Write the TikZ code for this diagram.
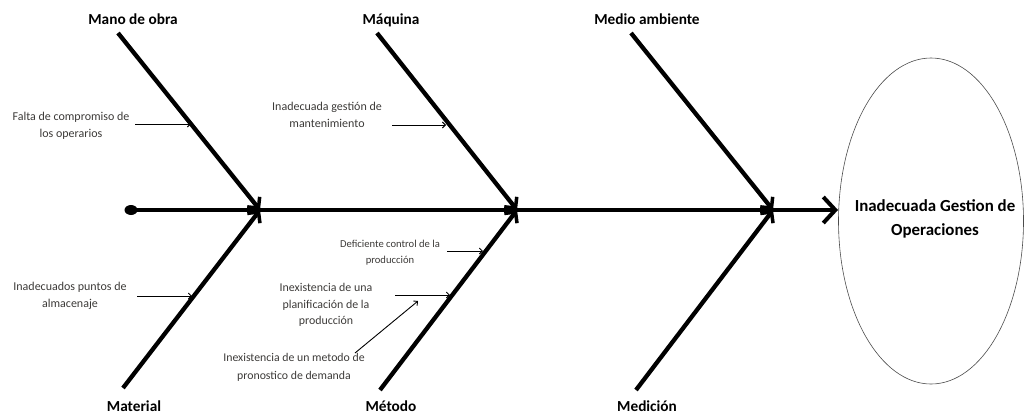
\documentclass[tikz,border=0pt]{standalone}
\usepackage{fontspec}
\setmainfont{Carlito}
\usetikzlibrary{arrows.meta,shapes.geometric}
\definecolor{causetext}{HTML}{3C3A38}
\begin{document}
\begin{tikzpicture}[x=1pt,y=-1pt,
  spine/.style={line width=4.5pt,
    -{Straight Barb[length=12pt,width=26pt,line width=4pt]}},
  bone/.style={line width=4.3pt,
    -{Straight Barb[length=8pt,width=16pt,line width=3.5pt]}},
  sub/.style={line width=0.9pt,
    -{Straight Barb[length=3pt,width=6pt,line width=0.9pt]}},
  category/.style={font=\bfseries\fontsize{15.3}{18}\selectfont, inner sep=0pt,
    anchor=base},
  cause/.style={font=\fontsize{12}{17}\selectfont, text=causetext,
    align=center, inner sep=0pt},
  effect/.style={draw=black!70, line width=0.6pt, ellipse, minimum width=185pt,
    minimum height=326pt, inner sep=0pt}
]
\useasboundingbox (0,0) rectangle (1024,416);

% head (effect)
\node[effect] (effect) at (931,221) {};
\node[align=center, font=\bfseries\fontsize{16.9}{24}\selectfont] (effecttext)
  at (935,219) {Inadecuada Gestion de\\Operaciones};

% spine
\coordinate (tail) at (131,210);
\coordinate (head) at (838,210);
\fill (tail) ellipse (6.5pt and 5pt);
\draw[spine] (tail) -- (head);

% joints on the spine
\coordinate (j1) at (260,210);
\coordinate (j2) at (517,210);
\coordinate (j3) at (773,210);

% upper bones
\coordinate (mo) at (118,33);
\coordinate (mq) at (377,33);
\coordinate (ma) at (631,33);
\draw[bone] (mo) -- (j1);
\draw[bone] (mq) -- (j2);
\draw[bone] (ma) -- (j3);
\node[category] (lmo) at (133,24) {Mano de obra};
\node[category] (lmq) at (391,24) {Máquina};
\node[category] (lma) at (647,24) {Medio ambiente};

% lower bones
\coordinate (mt) at (123,388);
\coordinate (me) at (380,390);
\coordinate (md) at (636,390);
\draw[bone] (mt) -- (j1);
\draw[bone] (me) -- (j2);
\draw[bone] (md) -- (j3);
\node[category] (lmt) at (134,411) {Material};
\node[category] (lme) at (391,411) {Método};
\node[category] (lmd) at (647,411) {Medición};

% causes
\node[cause] (c1) at (71,126) {Falta de compromiso de\\los operarios};
\coordinate (c1s) at (135,124);
\coordinate (c1e) at (191,124);
\draw[sub] (c1s) -- (c1e);

\node[cause] (c2) at (327,115) {Inadecuada gestión de\\mantenimiento};
\coordinate (c2s) at (392,125);
\coordinate (c2e) at (446,125);
\draw[sub] (c2s) -- (c2e);

\node[cause] (c3) at (70,296) {Inadecuados puntos de\\almacenaje};
\coordinate (c3s) at (137,296);
\coordinate (c3e) at (192,296);
\draw[sub] (c3s) -- (c3e);

\node[cause, font=\fontsize{10.6}{16}\selectfont] (c4) at (390,253)
  {Deficiente control de la\\producción};
\coordinate (c4s) at (447,251);
\coordinate (c4e) at (483,251);
\draw[sub] (c4s) -- (c4e);

\node[cause, font=\fontsize{11.9}{16.5}\selectfont] (c5) at (326,305)
  {Inexistencia de una\\planificación de la\\producción};
\coordinate (c5s) at (395,295);
\coordinate (c5e) at (450,295);
\draw[sub] (c5s) -- (c5e);

\node[cause, font=\fontsize{11.8}{18}\selectfont] (c6) at (294,367)
  {Inexistencia de un metodo de\\pronostico de demanda};
\coordinate (c6s) at (355,353);
\coordinate (c6e) at (418,301);
\draw[sub] (c6s) -- (c6e);
\end{tikzpicture}
\end{document}
